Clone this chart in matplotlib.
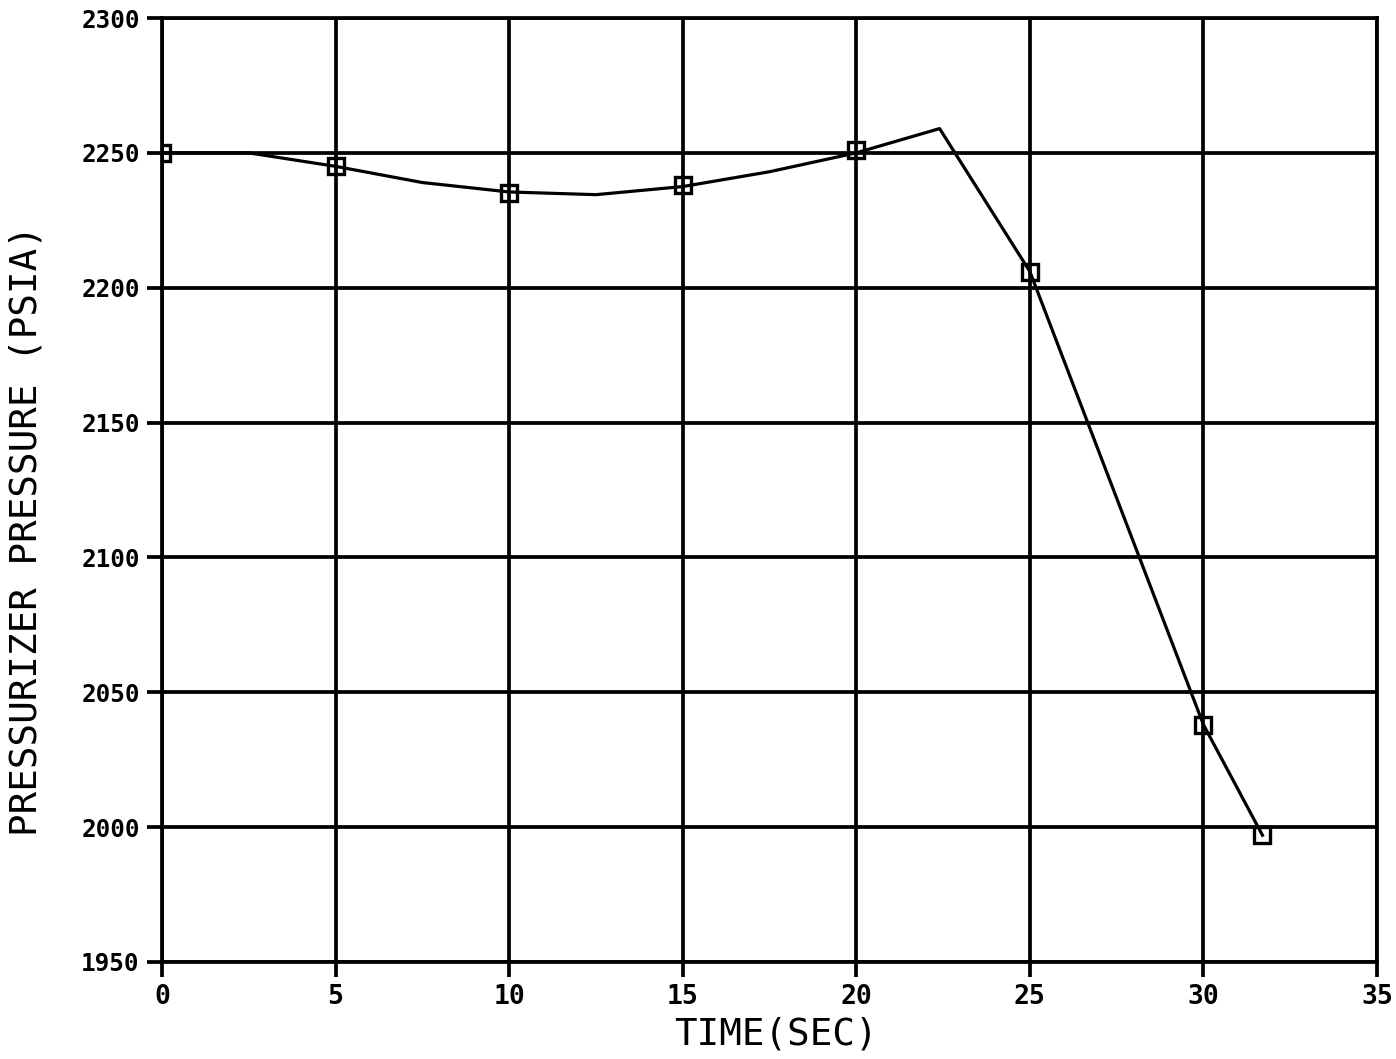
import matplotlib
matplotlib.use("Agg")
import matplotlib.pyplot as plt

# Pressurizer pressure transient: smooth trace and sampled markers
trace_time = [0, 2.5, 5, 7.5, 10, 12.5, 15, 17.5, 20, 22.4, 25, 27.5, 30, 31.7]
trace_psia = [2250, 2250, 2245, 2239, 2235.5, 2234.5, 2237.5, 2243, 2250, 2259,
              2206, 2122, 2038, 1997]

marker_time = [0, 5, 10, 15, 20, 25, 30, 31.7]
marker_psia = [2250, 2245, 2235, 2238, 2251, 2206, 2038, 1997]

x_ticks = [0, 5, 10, 15, 20, 25, 30, 35]
y_ticks = [1950, 2000, 2050, 2100, 2150, 2200, 2250, 2300]

fig = plt.figure(figsize=(13.96, 10.59), dpi=100)
ax = fig.add_axes([0.116, 0.0916, 0.8704, 0.8914])

ax.plot(trace_time, trace_psia, color="black", lw=2.3, zorder=3)
ax.plot(marker_time, marker_psia, ls="none", marker="s", ms=11.5,
        mfc="none", mec="black", mew=2.4, zorder=4)

ax.set_xlim(0, 35)
ax.set_ylim(1950, 2300)
ax.set_xticks(x_ticks)
ax.set_yticks(y_ticks)
ax.grid(True, color="black", lw=2.7)
ax.set_axisbelow(True)
for s in ax.spines.values():
    s.set_linewidth(2.7)

ax.tick_params(direction="out", length=11, width=2.7, pad=5)
mono = "DejaVu Sans Mono"
for lab in ax.get_xticklabels():
    lab.set_fontfamily(mono)
    lab.set_fontweight("bold")
    lab.set_fontsize(19)
for lab in ax.get_yticklabels():
    lab.set_fontfamily(mono)
    lab.set_fontweight("bold")
    lab.set_fontsize(17.5)

ax.set_xlabel("TIME(SEC)", fontfamily=mono, fontsize=27)
ax.set_ylabel("PRESSURIZER PRESSURE (PSIA)", fontfamily=mono, fontsize=27)
ax.xaxis.set_label_coords(0.505, -0.058)
ax.yaxis.set_label_coords(-0.097, 0.457)

fig.savefig("out.png", dpi=100)
